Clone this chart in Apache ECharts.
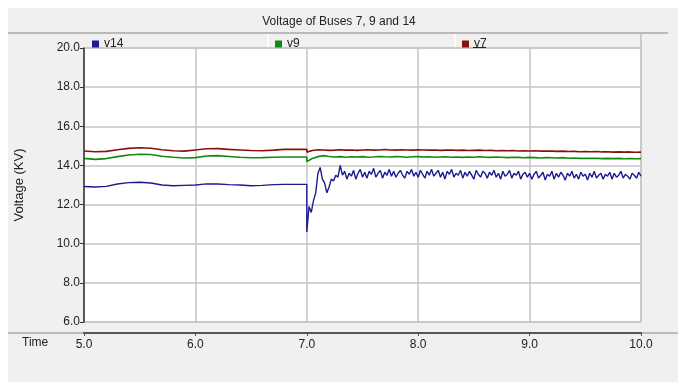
<!DOCTYPE html>
<html>
<head>
<meta charset="utf-8">
<script src="https://cdn.jsdelivr.net/npm/echarts@6/dist/echarts.min.js"></script>
<style>
  html, body { margin: 0; padding: 0; background: #fff; }
  #chart { width: 678px; height: 382px; }
</style>
</head>
<body>
<div id="chart"></div>
<script>
const chartTitle = 'Voltage of Buses 7, 9 and 14'
const seriesNames = ['v14', 'v9', 'v7']
const seriesColors = ['#1c1c8e', '#108a10', '#8a1010']
const yTicks = ['6.0', '8.0', '10.0', '12.0', '14.0', '16.0', '18.0', '20.0']
const xTicks = ['5.0', '6.0', '7.0', '8.0', '9.0', '10.0']

// before the disturbance: t = 5.0 .. 7.0, every 0.1 s
const preStart = 5.0
const preStep = 0.1
const v14Pre = [12.92, 12.9, 12.93, 13.05, 13.12, 13.14, 13.1, 13.0, 12.96, 12.98, 13.0,
  13.06, 13.05, 13.02, 13.0, 12.96, 12.98, 13.02, 13.03, 13.03, 13.03]
const v9Pre = [14.36, 14.31, 14.35, 14.45, 14.53, 14.57, 14.56, 14.47, 14.42, 14.38, 14.4,
  14.48, 14.5, 14.46, 14.42, 14.39, 14.4, 14.42, 14.43, 14.43, 14.43]
const v7Pre = [14.74, 14.7, 14.72, 14.8, 14.87, 14.9, 14.88, 14.8, 14.75, 14.73, 14.79,
  14.85, 14.86, 14.82, 14.79, 14.76, 14.75, 14.78, 14.82, 14.82, 14.82]

// after the disturbance: t = 7.0 .. 10.0
const postStart = 7.0
const v14Step = 0.02
const v14Post = [10.6, 11.9, 11.6, 12.2, 12.6, 13.6, 13.9, 13.3, 13.1, 12.6,
  12.9, 13.3, 13.2, 13.5, 13.4, 14.0, 13.5, 13.7, 13.3, 13.6,
  13.45, 13.75, 13.3, 13.6, 13.8, 13.4, 13.65, 13.35, 13.7, 13.55,
  13.85, 13.4, 13.6, 13.75, 13.35, 13.65, 13.5, 13.8, 13.45, 13.7,
  13.4, 13.6, 13.75, 13.5, 13.35, 13.7, 13.55, 13.8, 13.45, 13.65,
  13.4, 13.75, 13.55, 13.35, 13.7, 13.5, 13.8, 13.45, 13.6, 13.75,
  13.4, 13.65, 13.3, 13.7, 13.55, 13.8, 13.4, 13.6, 13.5, 13.75,
  13.35, 13.65, 13.45, 13.7, 13.5, 13.3, 13.75, 13.55, 13.4, 13.7,
  13.6, 13.35, 13.65, 13.5, 13.75, 13.4, 13.6, 13.3, 13.7, 13.45,
  13.55, 13.75, 13.35, 13.6, 13.5, 13.7, 13.3, 13.55, 13.65, 13.4,
  13.6, 13.3, 13.55, 13.7, 13.35, 13.5, 13.65, 13.25, 13.55, 13.45,
  13.7, 13.3, 13.6, 13.4, 13.65, 13.5, 13.25, 13.6, 13.45, 13.7,
  13.35, 13.55, 13.3, 13.65, 13.45, 13.55, 13.25, 13.6, 13.4, 13.7,
  13.35, 13.5, 13.6, 13.3, 13.55, 13.45, 13.65, 13.3, 13.6, 13.4,
  13.5, 13.7, 13.35, 13.55, 13.45, 13.3, 13.6, 13.5, 13.35, 13.65,
  13.45]
const slowStep = 0.05
const v9Post = [14.2, 14.35, 14.45, 14.5, 14.46, 14.43, 14.45, 14.42, 14.44, 14.43,
  14.45, 14.42, 14.43, 14.46, 14.44, 14.43, 14.45, 14.44, 14.42, 14.44,
  14.45, 14.43, 14.44, 14.42, 14.43, 14.44, 14.42, 14.43, 14.41, 14.43,
  14.42, 14.44, 14.42, 14.41, 14.43, 14.42, 14.4, 14.42, 14.41, 14.39,
  14.41, 14.4, 14.38, 14.4, 14.39, 14.38, 14.4, 14.37, 14.38, 14.36,
  14.37, 14.36, 14.37, 14.35, 14.36, 14.35, 14.36, 14.34, 14.35, 14.34,
  14.35]
const v7Post = [14.68, 14.76, 14.8, 14.79, 14.77, 14.78, 14.8, 14.78, 14.79, 14.77,
  14.79, 14.8, 14.78, 14.79, 14.81, 14.79, 14.78, 14.8, 14.79, 14.78,
  14.8, 14.79, 14.78, 14.79, 14.77, 14.78, 14.79, 14.77, 14.78, 14.76,
  14.77, 14.78, 14.76, 14.77, 14.75, 14.76, 14.75, 14.76, 14.74, 14.75,
  14.74, 14.75, 14.73, 14.74, 14.73, 14.72, 14.73, 14.71, 14.72, 14.7,
  14.71, 14.7, 14.71, 14.69, 14.7, 14.68, 14.69, 14.68, 14.69, 14.67,
  14.68]

function toPoints(start, step, values) {
  return values.map((v, i) => [+(start + i * step).toFixed(3), v])
}

const seriesData = [
  toPoints(preStart, preStep, v14Pre).concat(toPoints(postStart, v14Step, v14Post)),
  toPoints(preStart, preStep, v9Pre).concat(toPoints(postStart, slowStep, v9Post)),
  toPoints(preStart, preStep, v7Pre).concat(toPoints(postStart, slowStep, v7Post)),
]

const font = "'Liberation Sans', Arial, sans-serif"
const legendLefts = [87, 270, 457]

const chart = echarts.init(document.getElementById('chart'), null, { renderer: 'canvas' })

chart.setOption({
  backgroundColor: '#ffffff',
  animation: false,
  textStyle: { fontFamily: font },
  graphic: [
    { type: 'rect', z: -10, shape: { x: 8, y: 8, width: 670, height: 374 }, style: { fill: '#f0f0f0' } },
    { type: 'line', z: -5, shape: { x1: 8, y1: 33, x2: 668, y2: 33 }, style: { stroke: '#a8a8a8', lineWidth: 1.5 } },
    { type: 'line', z: -5, shape: { x1: 268, y1: 34, x2: 268, y2: 47 }, style: { stroke: '#ffffff', lineWidth: 1.5 } },
    { type: 'line', z: -5, shape: { x1: 455, y1: 34, x2: 455, y2: 47 }, style: { stroke: '#ffffff', lineWidth: 1.5 } },
    { type: 'line', z: -5, shape: { x1: 641, y1: 34, x2: 641, y2: 48 }, style: { stroke: '#a8a8a8', lineWidth: 1 } },
    { type: 'line', z: -5, shape: { x1: 8, y1: 333, x2: 678, y2: 333 }, style: { stroke: '#a8a8a8', lineWidth: 1.5 } },
    { type: 'line', z: 10, shape: { x1: 473, y1: 47.5, x2: 486, y2: 47.5 }, style: { stroke: '#222', lineWidth: 1 } },
    { type: 'text', left: 22, top: 337, style: { text: 'Time', fontSize: 12, fill: '#222', fontFamily: font } },
  ],
  title: {
    text: chartTitle,
    left: 'center',
    top: 11,
    textStyle: { fontSize: 12, fontWeight: 'normal', color: '#222', fontFamily: font },
  },
  legend: seriesNames.map((name, i) => ({
    data: [name],
    left: legendLefts[i],
    top: 33,
    icon: 'rect',
    itemWidth: 7,
    itemHeight: 7,
    itemGap: 4,
    textStyle: { fontSize: 12, color: '#222', fontFamily: font },
    selectedMode: false,
  })),
  grid: {
    left: 84,
    right: 37,
    top: 48,
    bottom: 60,
    show: true,
    backgroundColor: '#ffffff',
    borderColor: '#b8b8b8',
    borderWidth: 1,
  },
  xAxis: {
    type: 'value',
    min: 5,
    max: 10,
    interval: 1,
    offset: 11,
    axisLine: { show: true, lineStyle: { color: '#555', width: 2 } },
    axisTick: { show: true, length: 3, lineStyle: { color: '#555' } },
    axisLabel: {
      color: '#222',
      fontSize: 12,
      margin: 6,
      formatter: (v) => xTicks[Math.round(v - 5)],
    },
    splitLine: { show: true, lineStyle: { color: '#c4c4c4', width: 1.5 } },
  },
  yAxis: {
    type: 'value',
    min: 6,
    max: 20,
    interval: 2,
    name: 'Voltage (KV)',
    nameLocation: 'middle',
    nameGap: 58,
    nameTextStyle: { fontSize: 13, color: '#222', fontFamily: font },
    axisLine: { show: true, lineStyle: { color: '#333', width: 1.5 } },
    axisTick: { show: true, length: 4, lineStyle: { color: '#333' } },
    axisLabel: {
      color: '#222',
      fontSize: 12,
      margin: 4,
      formatter: (v) => yTicks[Math.round((v - 6) / 2)],
    },
    splitLine: { show: true, lineStyle: { color: '#c4c4c4', width: 1.5 } },
  },
  series: seriesNames.map((name, i) => ({
    name,
    type: 'line',
    data: seriesData[i],
    showSymbol: false,
    symbol: 'none',
    color: seriesColors[i],
    lineStyle: { width: i === 0 ? 1.4 : 1.6, color: seriesColors[i] },
    z: 3 - i,
  })),
})

window.addEventListener('resize', () => chart.resize())
</script>
</body>
</html>
